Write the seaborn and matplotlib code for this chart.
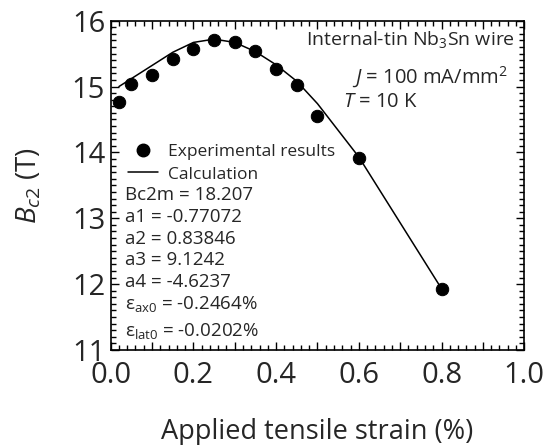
import matplotlib
matplotlib.use("Agg")
import matplotlib.pyplot as plt
from matplotlib.lines import Line2D
from matplotlib.ticker import MultipleLocator, FuncFormatter
import pandas as pd
import seaborn as sns

# experimental points
strain_exp = [0.02, 0.05, 0.10, 0.15, 0.20, 0.25, 0.30, 0.35, 0.40, 0.45, 0.50, 0.60, 0.80]
bc2_exp = [14.76, 15.04, 15.18, 15.42, 15.57, 15.70, 15.67, 15.54, 15.27, 15.02, 14.55, 13.92, 11.93]

# calculated curve
strain_calc = [0.02, 0.05, 0.10, 0.15, 0.20, 0.25, 0.30, 0.35, 0.40, 0.45, 0.50, 0.60, 0.80]
bc2_calc = [15.00, 15.12, 15.32, 15.52, 15.67, 15.72, 15.67, 15.53, 15.33, 15.08, 14.74, 13.93, 11.93]

params = ["Bc2m = 18.207", "a1 = -0.77072", "a2 = 0.83846", "a3 = 9.1242", "a4 = -4.6237"]

df_exp = pd.DataFrame({"strain": strain_exp, "bc2": bc2_exp})
df_calc = pd.DataFrame({"strain": strain_calc, "bc2": bc2_calc})

sns.set_style("ticks")
plt.rcParams["font.family"] = ["Open Sans", "DejaVu Sans"]
plt.rcParams["mathtext.fontset"] = "custom"
plt.rcParams["mathtext.rm"] = "Open Sans"
plt.rcParams["mathtext.it"] = "Open Sans:italic"
plt.rcParams["mathtext.bf"] = "Open Sans:bold"

fig = plt.figure(figsize=(5.49, 4.45), dpi=100)
ax = fig.add_axes([0.2016, 0.2135, 0.7534, 0.74])

sns.lineplot(data=df_calc, x="strain", y="bc2", color="black", linewidth=1.1, ax=ax)
sns.scatterplot(data=df_exp, x="strain", y="bc2", color="black", s=80, edgecolor="black", ax=ax, zorder=3)

ax.set_xlim(0, 1.0)
ax.set_ylim(11, 16)
ax.xaxis.set_major_locator(MultipleLocator(0.1))
ax.xaxis.set_minor_locator(MultipleLocator(0.02))
ax.yaxis.set_major_locator(MultipleLocator(1))
ax.yaxis.set_minor_locator(MultipleLocator(0.1))
ax.xaxis.set_major_formatter(FuncFormatter(
    lambda v, p: f"{v:.1f}" if round(v * 10) % 2 == 0 else ""))
ax.tick_params(which="both", direction="in", top=True, right=True, color="black", width=1)
ax.tick_params(which="major", length=6, labelsize=21)
ax.tick_params(which="minor", length=3.5)
ax.tick_params(axis="x", which="major", pad=8)
ax.tick_params(axis="y", which="major", pad=4)
for sp in ax.spines.values():
    sp.set_color("black")
    sp.set_linewidth(1.2)

ax.set_xlabel("Applied tensile strain (%)", fontsize=19.5, labelpad=20)
ax.set_ylabel(r"$B_{c2}$ (T)", fontsize=20, labelpad=20)

handles = [
    Line2D([], [], marker="o", linestyle="none", color="black", markersize=9),
    Line2D([], [], color="black", linewidth=1.1),
]
ax.legend(handles, ["Experimental results", "Calculation"], loc="upper left",
          bbox_to_anchor=(0.042, 0.625), frameon=False, fontsize=12.5,
          handlelength=1.75, handletextpad=0.55, labelspacing=0.35,
          borderaxespad=0, borderpad=0)

y0 = 0.47
for i, p in enumerate(params):
    ax.text(0.035, y0 - i * 0.066, p, transform=ax.transAxes, fontsize=13.5, va="center")
ax.text(0.035, y0 - 5 * 0.066, r"$\mathregular{\varepsilon_{ax0}}$ = -0.2464%",
        transform=ax.transAxes, fontsize=13.5, va="center")
ax.text(0.035, y0 - 6 * 0.066 - 0.015, r"$\mathregular{\varepsilon_{lat0}}$ = -0.0202%",
        transform=ax.transAxes, fontsize=13.5, va="center")

ax.text(0.978, 0.926, r"Internal-tin Nb$_3$Sn wire", transform=ax.transAxes,
        fontsize=14, ha="right", va="baseline")
ax.text(0.96, 0.81, r"$J$ = 100 mA/mm$^2$", transform=ax.transAxes,
        fontsize=14.5, ha="right", va="baseline")
ax.text(0.562, 0.739, r"$T$ = 10 K", transform=ax.transAxes,
        fontsize=14.5, ha="left", va="baseline")

fig.savefig("out.png", dpi=100)
